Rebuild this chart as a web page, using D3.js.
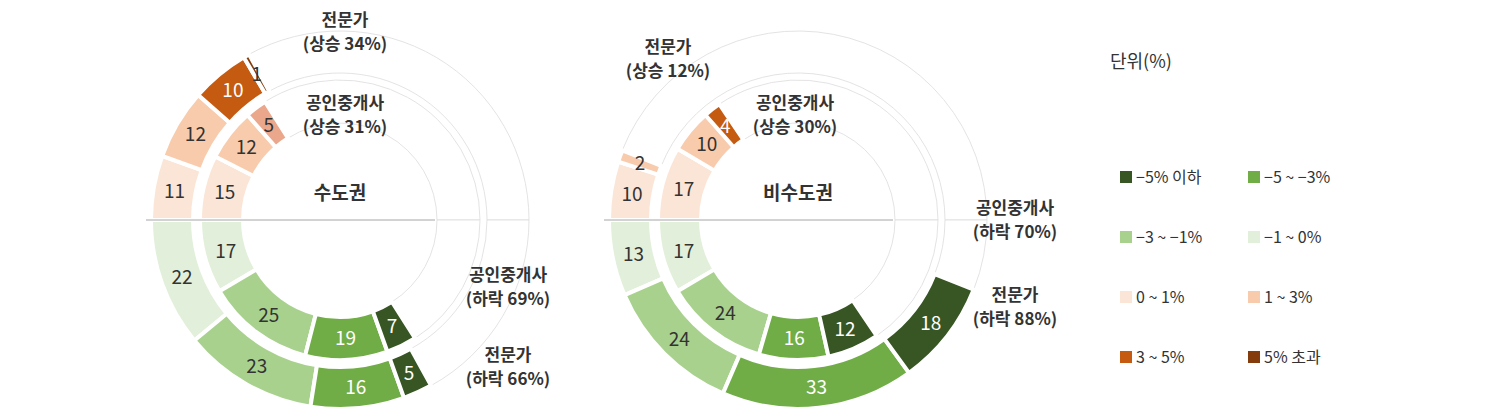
<!DOCTYPE html>
<html>
<head>
<meta charset="utf-8">
<script src="https://cdn.jsdelivr.net/npm/d3@7"></script>
<style>
  body { margin: 0; background: #fff; }
  text { font-family: "Noto Sans CJK KR", "Noto Sans", sans-serif; fill: #333; }
</style>
</head>
<body>
<svg id="chart" width="1489" height="419"></svg>
<script>
// category colours (legend order)
const legendLabels = ["−5% 이하", "−5 ~ −3%", "−3 ~ −1%", "−1 ~ 0%", "0 ~ 1%", "1 ~ 3%", "3 ~ 5%", "5% 초과"];
const legendColors = ["#375623", "#70ad47", "#a9d18e", "#e2efda", "#fbe5d6", "#f8cbad", "#c55a11", "#843c0c"];

// 수도권
const metroAgentUp = [15, 12, 5];
const metroAgentUpCat = [4, 5, 5];
const metroAgentDown = [17, 25, 19, 7];
const metroAgentDownCat = [3, 2, 1, 0];
const metroExpertUp = [11, 12, 10, 1];
const metroExpertUpCat = [4, 5, 6, 7];
const metroExpertDown = [22, 23, 16, 5];
const metroExpertDownCat = [3, 2, 1, 0];

// 비수도권
const otherAgentUp = [17, 10, 4];
const otherAgentUpCat = [4, 5, 6];
const otherAgentDown = [17, 24, 16, 12];
const otherAgentDownCat = [3, 2, 1, 0];
const otherExpertUp = [10, 2];
const otherExpertUpCat = [4, 5];
const otherExpertDown = [13, 24, 33, 18];
const otherExpertDownCat = [3, 2, 1, 0];

const charts = [
  { cx: 340, cy: 220, name: "수도권",
    rings: [
      { up: metroAgentUp, upCat: metroAgentUpCat, down: metroAgentDown, downCat: metroAgentDownCat, inner: true },
      { up: metroExpertUp, upCat: metroExpertUpCat, down: metroExpertDown, downCat: metroExpertDownCat, inner: false }
    ],
    labels: [
      [345, 20, "전문가", "(상승 34%)"],
      [345, 103, "공인중개사", "(상승 31%)"],
      [508, 275, "공인중개사", "(하락 69%)"],
      [508, 355, "전문가", "(하락 66%)"]
    ],
    special: { "0-up-2": "#eba78b" } },
  { cx: 798, cy: 220, name: "비수도권",
    rings: [
      { up: otherAgentUp, upCat: otherAgentUpCat, down: otherAgentDown, downCat: otherAgentDownCat, inner: true },
      { up: otherExpertUp, upCat: otherExpertUpCat, down: otherExpertDown, downCat: otherExpertDownCat, inner: false }
    ],
    labels: [
      [668, 47, "전문가", "(상승 12%)"],
      [795, 103, "공인중개사", "(상승 30%)"],
      [1015, 208, "공인중개사", "(하락 70%)"],
      [1015, 295, "전문가", "(하락 88%)"]
    ],
    special: {} }
];

const svg = d3.select("#chart");
const angle = d3.scaleLinear().domain([0, 100]).range([0, Math.PI]);
const radii = [[97, 140], [147, 189]];
const whiteText = new Set([0, 1, 6]);

charts.forEach(c => {
  const g = svg.append("g").attr("transform", `translate(${c.cx},${c.cy})`);

  c.rings.forEach((ring, ri) => {
    const [r0, r1] = radii[ri];
    const arc = d3.arc().innerRadius(r0).outerRadius(r1);

    // empty remainder arcs (outlined)
    const upSum = d3.sum(ring.up), downSum = d3.sum(ring.down);
    const start = -Math.PI / 2;
    g.append("path")
      .attr("d", arc({ startAngle: start + angle(upSum), endAngle: Math.PI / 2 }))
      .attr("fill", "#fff").attr("stroke", "#dcdcdc").attr("stroke-width", 0.8);
    g.append("path")
      .attr("d", arc({ startAngle: start - angle(downSum), endAngle: -3 * Math.PI / 2 }))
      .attr("fill", "#fff").attr("stroke", "#dcdcdc").attr("stroke-width", 0.8);

    const segs = [];
    let a = start;
    ring.up.forEach((v, i) => {
      const key = `${ri}-up-${i}`;
      segs.push({ v, cat: ring.upCat[i], startAngle: a, endAngle: a + angle(v), color: c.special[key] });
      a += angle(v);
    });
    a = start;
    ring.down.forEach((v, i) => {
      segs.push({ v, cat: ring.downCat[i], startAngle: a, endAngle: a - angle(v) });
      a -= angle(v);
    });

    g.selectAll(null).data(segs).join("path")
      .attr("d", d => arc(d))
      .attr("fill", d => d.color || legendColors[d.cat])
      .attr("stroke", "#fff").attr("stroke-width", 4);

    g.selectAll(null).data(segs).join("text")
      .attr("transform", d => `translate(${arc.centroid(d)})`)
      .attr("text-anchor", "middle").attr("dy", "0.36em")
      .attr("font-size", 19)
      .style("fill", d => whiteText.has(d.cat) ? "#fff" : "#333")
      .text(d => d.v);
  });

  // horizontal divider
  g.append("line")
    .attr("x1", -radii[1][1] - 5).attr("x2", radii[0][0] - 2)
    .attr("y1", 0).attr("y2", 0)
    .attr("stroke", "#a6a6a6").attr("stroke-width", 1);

  g.append("text").attr("x", 0).attr("y", -20)
    .attr("text-anchor", "middle").attr("font-size", 19).attr("font-weight", "bold")
    .text(c.name);

  c.labels.forEach(([x, y, l1, l2]) => {
    const t = svg.append("text").attr("text-anchor", "middle")
      .attr("font-size", 17).attr("font-weight", "bold");
    t.append("tspan").attr("x", x).attr("y", y + 6).text(l1);
    t.append("tspan").attr("x", x).attr("y", y + 30).text(l2);
  });
});

// legend
svg.append("text").attr("x", 1110).attr("y", 68).attr("font-size", 18).text("단위(%)");
const lg = svg.selectAll(".lg").data(legendLabels).join("g")
  .attr("transform", (d, i) => `translate(${1120 + (i % 2) * 128},${177 + Math.floor(i / 2) * 60})`);
lg.append("rect").attr("x", 0).attr("y", -6).attr("width", 12).attr("height", 12)
  .attr("fill", (d, i) => legendColors[i]);
lg.append("text").attr("x", 16).attr("dy", "0.36em").attr("font-size", 16).text(d => d);
</script>
</body>
</html>
